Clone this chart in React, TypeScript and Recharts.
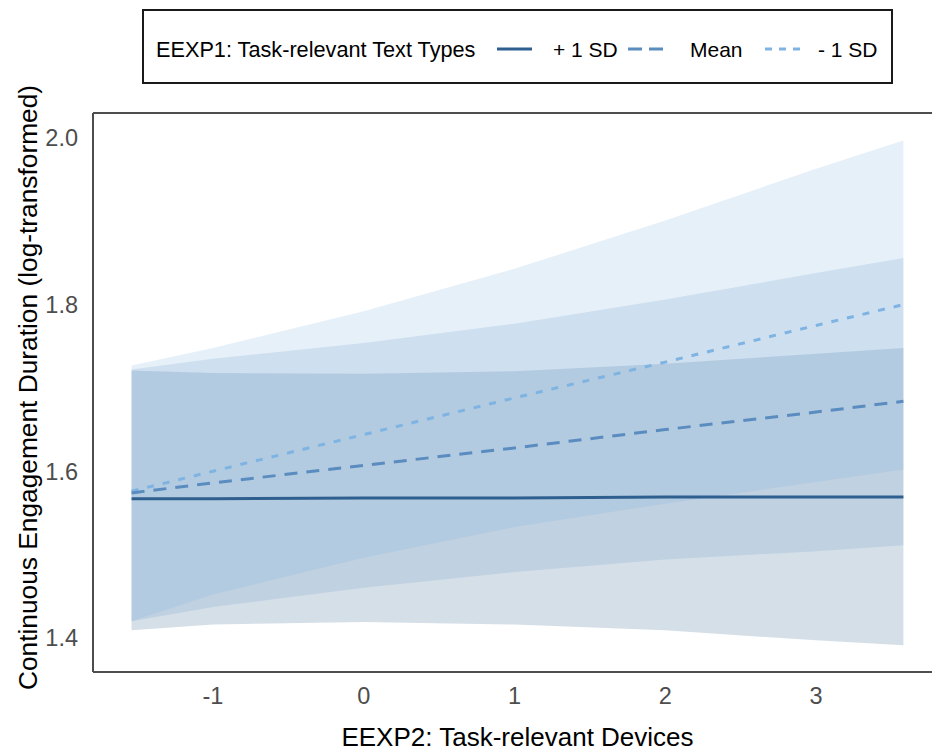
import React from 'react';
import {
  ComposedChart,
  Area,
  Line,
  XAxis,
  YAxis,
  Label,
  Legend,
  ReferenceLine,
} from 'recharts';

// ---- data ----
const xValues = [-1.54, -1, 0, 1, 2, 3, 3.58];

const plusFit = [1.567, 1.567, 1.568, 1.568, 1.569, 1.569, 1.569];
const plusLower = [1.409, 1.416, 1.419, 1.416, 1.409, 1.397, 1.391];
const plusUpper = [1.721, 1.718, 1.717, 1.72, 1.729, 1.741, 1.748];

const meanFit = [1.574, 1.586, 1.607, 1.628, 1.65, 1.671, 1.684];
const meanLower = [1.42, 1.437, 1.46, 1.479, 1.494, 1.504, 1.511];
const meanUpper = [1.722, 1.735, 1.754, 1.777, 1.806, 1.838, 1.856];

const minusFit = [1.576, 1.6, 1.644, 1.688, 1.731, 1.775, 1.8];
const minusLower = [1.42, 1.452, 1.496, 1.533, 1.561, 1.587, 1.602];
const minusUpper = [1.727, 1.748, 1.792, 1.843, 1.901, 1.963, 1.997];

const xTicks = [-1, 0, 1, 2, 3];
const yTicks = [1.4, 1.6, 1.8, 2.0];

const legendTitle = 'EEXP1: Task-relevant Text Types';
const seriesLabels = ['+ 1 SD', 'Mean', '- 1 SD'];
const xTitle = 'EEXP2: Task-relevant Devices';
const yTitle = 'Continuous Engagement Duration (log-transformed)';

// ---- styling ----
const FONT = '"Liberation Sans", Arial, Helvetica, sans-serif';
const lineColors = ['#2f5f8f', '#5a8cc0', '#7fb3e1'];
const fillColors = ['#2d5f8c', '#6f9cc9', '#82b4e1'];
const dashes = [undefined, '13 9', '7 9'];
const legendDashes = [undefined, '14 7', '7 7'];

const data = xValues.map((x, i) => ({
  x,
  plus: plusFit[i],
  plusBand: [plusLower[i], plusUpper[i]],
  mean: meanFit[i],
  meanBand: [meanLower[i], meanUpper[i]],
  minus: minusFit[i],
  minusBand: [minusLower[i], minusUpper[i]],
}));

const X_DOMAIN: [number, number] = [-1.796, 3.836];
const Y_DOMAIN: [number, number] = [1.359, 2.03];

const renderLegend = () => {
  const itemX = [497, 628, 765];
  const textX = [553, 690, 818];
  return (
    <svg width={932} height={90} style={{ display: 'block' }}>
      <rect x={143} y={10} width={749} height={73} fill="#ffffff" stroke="#1a1a1a" strokeWidth={2} />
      <text x={156} y={57} fontSize={21.7} fontFamily={FONT} fill="#000">
        {legendTitle}
      </text>
      {seriesLabels.map((lab, i) => (
        <g key={lab}>
          <line
            x1={itemX[i]}
            x2={itemX[i] + 35}
            y1={49}
            y2={49}
            stroke={lineColors[i]}
            strokeWidth={3}
            strokeDasharray={legendDashes[i]}
          />
          <text x={textX[i]} y={57} fontSize={21} fontFamily={FONT} fill="#000">
            {lab}
          </text>
        </g>
      ))}
    </svg>
  );
};

const YTitle = (props: any) => {
  const vb = props.viewBox || { y: 113, height: 559 };
  const cx = 37;
  const cy = vb.y + vb.height / 2 - 5;
  return (
    <text
      x={cx}
      y={cy}
      transform={`rotate(-90, ${cx}, ${cy})`}
      textAnchor="middle"
      fontSize={26.3}
      fontFamily={FONT}
      fill="#000"
    >
      {yTitle}
    </text>
  );
};

const XTitle = (props: any) => {
  const vb = props.viewBox || { x: 93, width: 849, y: 672, height: 79 };
  return (
    <text
      x={vb.x + vb.width / 2}
      y={746}
      textAnchor="middle"
      fontSize={26}
      fontFamily={FONT}
      fill="#000"
    >
      {xTitle}
    </text>
  );
};

export default function App() {
  return (
    <div
      style={{
        position: 'absolute',
        left: 0,
        top: 0,
        width: 932,
        height: 751,
        overflow: 'hidden',
        background: '#ffffff',
      }}
    >
      <ComposedChart
        width={960}
        height={751}
        data={data}
        margin={{ top: 113, right: 18, bottom: 0, left: 0 }}
      >
        <XAxis
          type="number"
          dataKey="x"
          domain={X_DOMAIN}
          ticks={xTicks}
          allowDataOverflow
          height={79}
          tickSize={0}
          tickMargin={15}
          axisLine={{ stroke: '#4d4d4d', strokeWidth: 2 }}
          tickLine={false}
          tick={{ fontSize: 23.5, fill: '#4d4d4d', fontFamily: FONT }}
        >
          <Label content={XTitle} />
        </XAxis>
        <YAxis
          type="number"
          domain={Y_DOMAIN}
          ticks={yTicks}
          allowDataOverflow
          width={93}
          tickSize={0}
          tickMargin={15}
          axisLine={{ stroke: '#4d4d4d', strokeWidth: 2 }}
          tickLine={false}
          tickFormatter={(v: number) => v.toFixed(1)}
          tick={{ fontSize: 23.5, fill: '#4d4d4d', fontFamily: FONT }}
        >
          <Label content={YTitle} />
        </YAxis>

        <Area
          dataKey="plusBand"
          type="linear"
          stroke="none"
          fill={fillColors[0]}
          fillOpacity={0.2}
          isAnimationActive={false}
        />
        <Area
          dataKey="meanBand"
          type="linear"
          stroke="none"
          fill={fillColors[1]}
          fillOpacity={0.2}
          isAnimationActive={false}
        />
        <Area
          dataKey="minusBand"
          type="linear"
          stroke="none"
          fill={fillColors[2]}
          fillOpacity={0.2}
          isAnimationActive={false}
        />

        <Line
          dataKey="minus"
          type="linear"
          stroke={lineColors[2]}
          strokeWidth={3}
          strokeDasharray={dashes[2]}
          dot={false}
          activeDot={false}
          isAnimationActive={false}
        />
        <Line
          dataKey="mean"
          type="linear"
          stroke={lineColors[1]}
          strokeWidth={3}
          strokeDasharray={dashes[1]}
          dot={false}
          activeDot={false}
          isAnimationActive={false}
        />
        <Line
          dataKey="plus"
          type="linear"
          stroke={lineColors[0]}
          strokeWidth={3}
          dot={false}
          activeDot={false}
          isAnimationActive={false}
        />

        <ReferenceLine y={Y_DOMAIN[1]} stroke="#4d4d4d" strokeWidth={2} />
        <ReferenceLine x={X_DOMAIN[1]} stroke="#4d4d4d" strokeWidth={2} />

        <Legend
          content={renderLegend}
          layout="horizontal"
          verticalAlign="middle"
          align="center"
          wrapperStyle={{ top: 0, left: 0, width: 932, height: 90 }}
        />
      </ComposedChart>
    </div>
  );
}
